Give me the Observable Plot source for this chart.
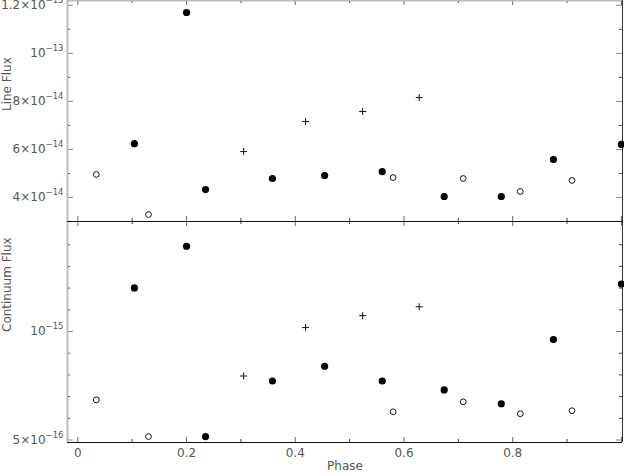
<!DOCTYPE html>
<html><head><meta charset="utf-8">
<script src="https://cdn.jsdelivr.net/npm/d3@7"></script>
<script src="https://cdn.jsdelivr.net/npm/@observablehq/plot@0.6"></script>
<style>
html,body{margin:0;padding:0;background:#fff;}
#chart svg{display:block;overflow:visible;background:transparent;}
</style></head><body><div id="chart"></div>
<script>
// ---- data ----
const phaseFilled = [0.104, 0.200, 0.235, 0.358, 0.454, 0.560, 0.674, 0.779, 0.875, 1.000];
const lineFilled  = [6.24e-14, 11.7e-14, 4.33e-14, 4.79e-14, 4.91e-14, 5.08e-14, 4.04e-14, 4.04e-14, 5.58e-14, 6.21e-14];
const contFilled  = [12.01e-16, 13.93e-16, 5.16e-16, 7.72e-16, 8.40e-16, 7.72e-16, 7.31e-16, 6.67e-16, 9.63e-16, 12.19e-16];

const phaseOpen = [0.034, 0.130, 0.580, 0.709, 0.814, 0.909];
const lineOpen  = [4.96e-14, 3.29e-14, 4.83e-14, 4.79e-14, 4.25e-14, 4.71e-14];
const contOpen  = [6.85e-16, 5.16e-16, 6.30e-16, 6.76e-16, 6.21e-16, 6.35e-16];

const phasePlus = [0.305, 0.419, 0.524, 0.628];
const linePlus  = [5.91e-14, 7.16e-14, 7.58e-14, 8.16e-14];
const contPlus  = [7.95e-16, 10.18e-16, 10.73e-16, 11.14e-16];

const phaseTicks = [0, 0.2, 0.4, 0.6, 0.8, 1.0];
const phaseTickLabels = ["0", "0.2", "0.4", "0.6", "0.8", ""];
const phaseMinor = [0.1, 0.3, 0.5, 0.7, 0.9];
const lineTicks = [4e-14, 6e-14, 8e-14, 1e-13, 1.2e-13];
const lineTickLabels = ["4×10^−14", "6×10^−14", "8×10^−14", "10^−13", "1.2×10^−13"];
const lineMinor = [3e-14, 5e-14, 7e-14, 9e-14, 1.1e-13];
const contTicks = [5e-16, 1e-15];
const contTickLabels = ["5×10^−16", "10^−15"];
const contMinor = [6e-16, 7e-16, 8e-16, 9e-16, 1.1e-15, 1.2e-15, 1.3e-15, 1.4e-15];

const titles = {line: "Line Flux", cont: "Continuum Flux", x: "Phase"};

// ---- layout ----
const W = 624, ML = 67, MR = 2;
const xDomain = [-0.019, 1.002];
const font = "DejaVu Sans, sans-serif";

function rows(px, vy) { return px.map((p, i) => ({p, v: vy[i]})); }
function labeler(ticks, labels) {
  return d => { const i = ticks.findIndex(t => Math.abs(t - d) <= 1e-6 * Math.max(Math.abs(t), 1e-30)); return i < 0 ? "" : labels[i]; };
}

function panel({height, marginBottom, yDomain, majorY, minorY, yLabels, yTitle, vf, vo, vp, bottom}) {
  const innerW = W - ML - MR, innerH = height - marginBottom;
  const marks = [
    Plot.ruleY(minorY, {insetRight: innerW - 3, stroke: "#444"}),
    Plot.ruleY(majorY, {insetRight: innerW - 6, stroke: "#888"}),
    Plot.ruleY(minorY, {insetLeft: innerW - 3, stroke: "#444"}),
    Plot.ruleY(majorY, {insetLeft: innerW - 6, stroke: "#888"}),
    Plot.ruleX(phaseMinor, {insetTop: innerH - 3, stroke: "#444"}),
    Plot.ruleX(phaseTicks, {insetTop: innerH - 5, stroke: "#666"}),
    Plot.ruleX(phaseMinor, {insetBottom: innerH - 3, stroke: "#444"}),
    Plot.ruleX(phaseTicks, {insetBottom: innerH - 5, stroke: "#666"}),
    Plot.ruleX([xDomain[0]], {stroke: "#bbb", strokeWidth: 2}),
    Plot.ruleX([xDomain[1]], {stroke: "#333"}),
    Plot.ruleY([yDomain[1]], {stroke: bottom ? "#111" : "#bbb", strokeWidth: bottom ? 1 : 2}),
    Plot.ruleY([yDomain[0]], {stroke: "#111"}),
    Plot.axisY(majorY, {tickSize: 0, tickPadding: 4, tickFormat: labeler(majorY, yLabels), label: null, fill: "#555"}),
    Plot.text([yTitle], {frameAnchor: "left", rotate: -90, dx: -60, fill: "#555"}),
    Plot.dot(vp, {x: "p", y: "v", symbol: "plus", r: 2.4, stroke: "#111", strokeWidth: 1}),
    Plot.dot(vo, {x: "p", y: "v", r: 2.9, stroke: "#111", fill: "white", strokeWidth: 1}),
    Plot.dot(vf, {x: "p", y: "v", r: 3.6, fill: "#000", stroke: "none"})
  ];
  if (bottom) {
    marks.push(Plot.axisX(phaseTicks, {tickSize: 0, tickPadding: 6, tickFormat: labeler(phaseTicks, phaseTickLabels), label: null, fill: "#555"}));
    marks.push(Plot.text([titles.x], {frameAnchor: "bottom", dy: 27, fill: "#555"}));
  }
  return Plot.plot({
    width: W, height, marginLeft: ML, marginRight: MR, marginTop: 0, marginBottom,
    style: {fontFamily: font, fontSize: "12px", color: "#555", background: "transparent", overflow: "visible"},
    x: {domain: xDomain, axis: null},
    y: {domain: yDomain, axis: null},
    marks
  });
}

const topPanel = panel({height: 221, marginBottom: 0, yDomain: [3.0e-14, 1.22e-13], majorY: lineTicks, minorY: lineMinor,
  yLabels: lineTickLabels, yTitle: titles.line,
  vf: rows(phaseFilled, lineFilled), vo: rows(phaseOpen, lineOpen), vp: rows(phasePlus, linePlus), bottom: false});
const botPanel = panel({height: 253, marginBottom: 32, yDomain: [4.885e-16, 1.507e-15], majorY: contTicks, minorY: contMinor,
  yLabels: contTickLabels, yTitle: titles.cont,
  vf: rows(phaseFilled, contFilled), vo: rows(phaseOpen, contOpen), vp: rows(phasePlus, contPlus), bottom: true});

const chart = document.getElementById("chart");
chart.append(topPanel, botPanel);

const ns = "http://www.w3.org/2000/svg";
for (const t of chart.querySelectorAll("text")) {
  const s = t.textContent;
  if (s.includes("^")) {
    const [b, e] = s.split("^");
    t.textContent = "";
    const t1 = document.createElementNS(ns, "tspan"); t1.textContent = b;
    const t2 = document.createElementNS(ns, "tspan"); t2.textContent = e;
    t2.setAttribute("dy", "-6"); t2.setAttribute("font-size", "8.5");
    t.append(t1, t2);
  }
}
</script></body></html>
